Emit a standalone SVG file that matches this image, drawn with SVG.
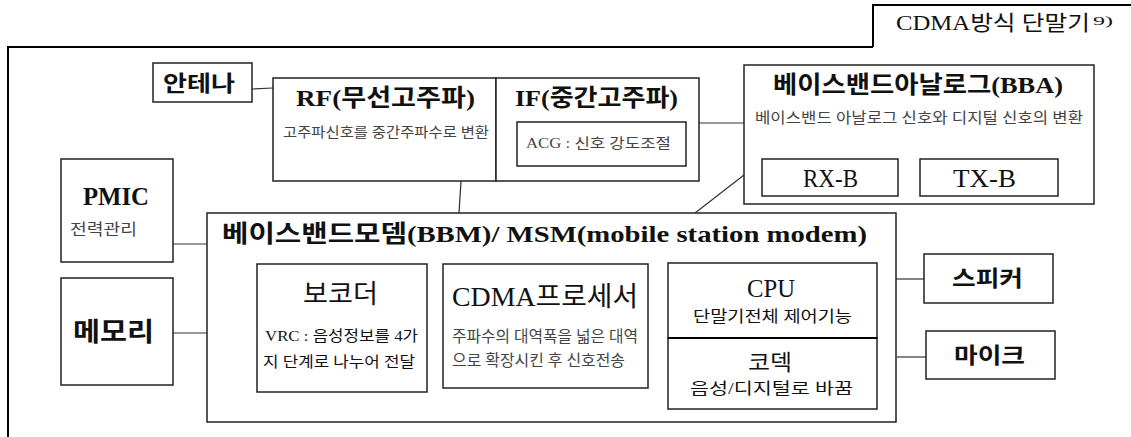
<svg xmlns="http://www.w3.org/2000/svg" width="1131" height="437" viewBox="0 0 1131 437">
<style>
.box{fill:#fff;stroke:#222;stroke-width:1.5}
.frame{fill:none;stroke:#000;stroke-width:2}
.conn{fill:none;stroke:#333;stroke-width:1.2}
text{font-family:"Liberation Serif","Noto Sans CJK KR",serif;fill:#111}
.b{font-weight:bold}
.sub{fill:#444}
</style>
<rect width="1131" height="437" fill="#fff"/>
<g id="frame">
<path class="frame" d="M7,47 H873 M8,47 V437"/>
<path class="frame" d="M873,47 V5 H1131" stroke-width="1.5"/>
<text x="896" y="30" font-size="21" textLength="194" lengthAdjust="spacingAndGlyphs">CDMA방식 단말기</text>
<text x="1093" y="25" font-size="13" textLength="20" lengthAdjust="spacingAndGlyphs">9)</text>
</g>
<g id="connectors">
<line class="conn" x1="252" y1="89" x2="273" y2="88"/>
<line class="conn" x1="699" y1="123" x2="744" y2="123"/>
<line class="conn" x1="744" y1="175" x2="695" y2="213"/>
<line class="conn" x1="461" y1="181" x2="459" y2="213"/>
<line class="conn" x1="173" y1="244" x2="207" y2="244"/>
<line class="conn" x1="173" y1="333" x2="207" y2="333"/>
<line class="conn" x1="896" y1="279" x2="924" y2="279"/>
<line class="conn" x1="897" y1="357" x2="926" y2="357"/>
</g>
<g id="antenna">
<rect class="box" x="153" y="63" width="99" height="39"/>
<text class="b" x="163" y="91" font-size="22" textLength="72" lengthAdjust="spacingAndGlyphs">안테나</text>
</g>
<g id="rf">
<rect class="box" x="273" y="78" width="223" height="103"/>
<text class="b" x="296" y="106" font-size="24" textLength="179" lengthAdjust="spacingAndGlyphs">RF(무선고주파)</text>
<text class="sub" x="283" y="137" font-size="14" textLength="206" lengthAdjust="spacingAndGlyphs">고주파신호를 중간주파수로 변환</text>
</g>
<g id="if">
<rect class="box" x="496" y="78" width="203" height="103"/>
<text class="b" x="515" y="106" font-size="24" textLength="163" lengthAdjust="spacingAndGlyphs">IF(중간고주파)</text>
<rect class="box" x="517" y="122" width="169" height="44"/>
<text class="sub" x="526" y="148" font-size="14" textLength="145" lengthAdjust="spacingAndGlyphs">ACG : 신호 강도조절</text>
</g>
<g id="bba">
<rect class="box" x="744" y="65" width="350" height="139"/>
<text class="b" x="773" y="93" font-size="24" textLength="290" lengthAdjust="spacingAndGlyphs">베이스밴드아날로그(BBA)</text>
<text class="sub" x="755" y="123" font-size="15" textLength="328" lengthAdjust="spacingAndGlyphs">베이스밴드 아날로그 신호와 디지털 신호의 변환</text>
<rect class="box" x="762" y="159" width="136" height="37"/>
<text x="803" y="187" font-size="25" textLength="55" lengthAdjust="spacingAndGlyphs">RX-B</text>
<rect class="box" x="920" y="159" width="138" height="37"/>
<text x="953" y="187" font-size="25" textLength="63" lengthAdjust="spacingAndGlyphs">TX-B</text>
</g>
<g id="pmic">
<rect class="box" x="61" y="159" width="112" height="103"/>
<text class="b" x="83" y="205" font-size="26" textLength="66" lengthAdjust="spacingAndGlyphs">PMIC</text>
<text class="sub" x="70" y="235" font-size="16" textLength="67" lengthAdjust="spacingAndGlyphs">전력관리</text>
</g>
<g id="memory">
<rect class="box" x="61" y="278" width="112" height="107"/>
<text class="b" x="73" y="341" font-size="26" textLength="81" lengthAdjust="spacingAndGlyphs">메모리</text>
</g>
<g id="bbm">
<rect class="box" x="207" y="213" width="689" height="209"/>
<text class="b" x="222" y="242" font-size="24" textLength="645" lengthAdjust="spacingAndGlyphs">베이스밴드모뎀(BBM)/ MSM(mobile station modem)</text>
</g>
<g id="vocoder">
<rect class="box" x="257" y="264" width="170" height="128"/>
<text x="303" y="303" font-size="26" textLength="75" lengthAdjust="spacingAndGlyphs">보코더</text>
<text x="265" y="341" font-size="15" textLength="153" lengthAdjust="spacingAndGlyphs">VRC : 음성정보를 4가</text>
<text x="263" y="367" font-size="15" textLength="152" lengthAdjust="spacingAndGlyphs">지 단계로 나누어 전달</text>
</g>
<g id="cdma">
<rect class="box" x="443" y="264" width="205" height="124"/>
<text x="452" y="306" font-size="27" textLength="186" lengthAdjust="spacingAndGlyphs">CDMA프로세서</text>
<text class="sub" x="452" y="342" font-size="16" textLength="186" lengthAdjust="spacingAndGlyphs">주파수의 대역폭을 넓은 대역</text>
<text class="sub" x="452" y="366" font-size="16" textLength="173" lengthAdjust="spacingAndGlyphs">으로 확장시킨 후 신호전송</text>
</g>
<g id="cpu">
<rect class="box" x="668" y="263" width="209" height="75"/>
<text x="747" y="297" font-size="25" textLength="48" lengthAdjust="spacingAndGlyphs">CPU</text>
<text x="693" y="322" font-size="16" textLength="159" lengthAdjust="spacingAndGlyphs">단말기전체 제어기능</text>
</g>
<g id="codec">
<rect class="box" x="668" y="338" width="209" height="71"/>
<line x1="668" y1="338" x2="877" y2="338" stroke="#000" stroke-width="2"/>
<text x="748" y="370" font-size="22" textLength="44" lengthAdjust="spacingAndGlyphs">코덱</text>
<text x="690" y="394" font-size="16" textLength="163" lengthAdjust="spacingAndGlyphs">음성/디지털로 바꿈</text>
</g>
<g id="speaker">
<rect class="box" x="924" y="254" width="129" height="49"/>
<text class="b" x="952" y="286" font-size="22" textLength="71" lengthAdjust="spacingAndGlyphs">스피커</text>
</g>
<g id="mic">
<rect class="box" x="926" y="331" width="129" height="48"/>
<text class="b" x="954" y="363" font-size="22" textLength="71" lengthAdjust="spacingAndGlyphs">마이크</text>
</g>
</svg>
